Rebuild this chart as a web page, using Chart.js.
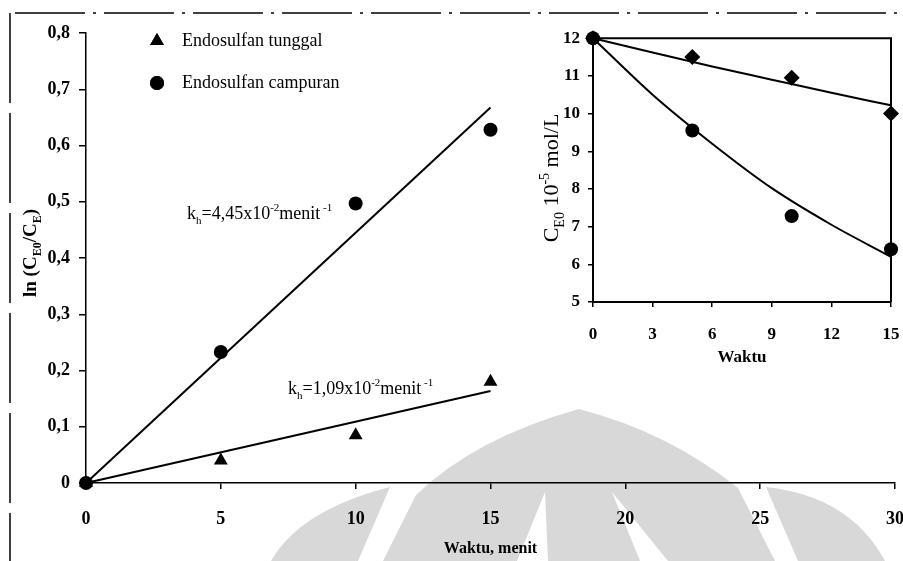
<!DOCTYPE html>
<html>
<head>
<meta charset="utf-8">
<script src="https://cdn.jsdelivr.net/npm/chart.js@4.4.1/dist/chart.umd.min.js"></script>
<style>
  html, body { margin: 0; padding: 0; background: #fff; }
  #wrap { position: relative; width: 903px; height: 561px; overflow: hidden; }
  #mainChart { position: absolute; left: 0; top: 0; }
  #insetChart { position: absolute; left: 530px; top: 20px; }
</style>
</head>
<body>
<div id="wrap">
  <canvas id="mainChart" width="903" height="561"></canvas>
  <canvas id="insetChart" width="373" height="350"></canvas>
</div>
<script>
// ln(CE0/CE) terhadap waktu (menit)
const waktu = [0, 5, 10, 15];
const lnTunggal = [0, 0.04, 0.085, 0.18];
const lnCampuran = [0, 0.233, 0.497, 0.628];

// konstanta laju (menit^-1), garis fit ln(CE0/CE) = k t
const kTunggal = 1.09e-2;
const kCampuran = 4.45e-2;
const fitEnd = 15;

const xTickLabels = ['0', '5', '10', '15', '20', '25', '30'];
const yTickLabels = ['0', '0,1', '0,2', '0,3', '0,4', '0,5', '0,6', '0,7', '0,8'];

// grafik kecil: CE0 (10^-5 mol/L) terhadap waktu
const insetWaktu = [0, 5, 10, 15];
const cTunggal = [12, 11.5, 10.95, 10.0];
const cCampuran = [12, 9.55, 7.28, 6.4];
const fitWaktu = [0, 3, 6, 9, 12, 15];
const cTunggalFit = [12, 11.62, 11.25, 10.9, 10.55, 10.22];
const cCampuranFit = [12, 10.5, 9.2, 8.02, 7.05, 6.2];
const insetXTicks = ['0', '3', '6', '9', '12', '15'];
const insetYTicks = ['5', '6', '7', '8', '9', '10', '11', '12'];

const FONT = '"Liberation Serif", "Times New Roman", serif';

const toPoints = (xs, ys) => xs.map((x, i) => ({ x: x, y: ys[i] }));

// text with sub/superscript parts: [[text, ''|'sub'|'sup'], ...]
function drawRich(ctx, parts, x, y, size, weight, align) {
  const small = Math.round(size * 0.62);
  const fontFor = m => `${weight} ${m ? small : size}px ${FONT}`;
  let total = 0;
  parts.forEach(([t, m]) => { ctx.font = fontFor(m); total += ctx.measureText(t).width; });
  let cx = align === 'center' ? x - total / 2 : x;
  ctx.textAlign = 'left';
  ctx.textBaseline = 'alphabetic';
  parts.forEach(([t, m]) => {
    ctx.font = fontFor(m);
    const dy = m === 'sub' ? size * 0.25 : m === 'sup' ? -size * 0.42 : 0;
    ctx.fillText(t, cx, y + dy);
    cx += ctx.measureText(t).width;
  });
}

function drawWatermark(ctx) {
  ctx.save();
  ctx.fillStyle = '#d8d8d8';
  ctx.beginPath();
  ctx.moveTo(383, 561);
  ctx.lineTo(416, 495);
  ctx.quadraticCurveTo(475, 438, 579, 409);
  ctx.quadraticCurveTo(668, 432, 738, 488);
  ctx.lineTo(775, 561);
  ctx.closePath();
  ctx.fill();
  ctx.beginPath();
  ctx.moveTo(271, 561);
  ctx.quadraticCurveTo(300, 510, 390, 487);
  ctx.lineTo(358, 561);
  ctx.closePath();
  ctx.fill();
  ctx.beginPath();
  ctx.moveTo(766, 487);
  ctx.quadraticCurveTo(850, 496, 885, 561);
  ctx.lineTo(798, 561);
  ctx.closePath();
  ctx.fill();
  ctx.fillStyle = '#fff';
  ctx.beginPath();
  ctx.moveTo(545, 492); ctx.lineTo(548, 561); ctx.lineTo(517, 561);
  ctx.closePath();
  ctx.fill();
  ctx.beginPath();
  ctx.moveTo(612, 492); ctx.lineTo(668, 561); ctx.lineTo(640, 561);
  ctx.closePath();
  ctx.fill();
  ctx.restore();
}

const mainDecor = {
  id: 'mainDecor',
  beforeDraw(chart) {
    const ctx = chart.ctx;
    drawWatermark(ctx);
    // outer frame remnants
    ctx.save();
    ctx.strokeStyle = '#000';
    ctx.lineWidth = 1.5;
    ctx.setLineDash([70, 8, 3, 8]);
    ctx.beginPath(); ctx.moveTo(15, 13); ctx.lineTo(903, 13); ctx.stroke();
    ctx.setLineDash([90, 10]);
    ctx.beginPath(); ctx.moveTo(10, 13); ctx.lineTo(10, 561); ctx.stroke();
    ctx.restore();
  },
  afterDraw(chart) {
    const ctx = chart.ctx;
    ctx.save();
    ctx.fillStyle = '#000';
    // legend
    Chart.helpers.drawPoint(ctx, { pointStyle: 'triangle', radius: 8, rotation: 0, borderWidth: 0 }, 157, 41);
    ctx.fill();
    Chart.helpers.drawPoint(ctx, { pointStyle: 'circle', radius: 7, rotation: 0, borderWidth: 0 }, 157, 83);
    ctx.fill();
    ctx.font = `18px ${FONT}`;
    ctx.textBaseline = 'middle';
    ctx.textAlign = 'left';
    ctx.fillText('Endosulfan tunggal', 182, 41);
    ctx.fillText('Endosulfan campuran', 182, 83);

    // rate constants
    drawRich(ctx, [['k', ''], ['h', 'sub'], ['=4,45x10', ''], ['-2', 'sup'], ['menit', ''], [' -1', 'sup']], 187, 219, 18, 'normal', 'left');
    drawRich(ctx, [['k', ''], ['h', 'sub'], ['=1,09x10', ''], ['-2', 'sup'], ['menit', ''], [' -1', 'sup']], 288, 394, 18, 'normal', 'left');

    // y axis title
    ctx.translate(30, 253);
    ctx.rotate(-Math.PI / 2);
    drawRich(ctx, [['ln (C', ''], ['E0', 'sub'], ['/C', ''], ['E', 'sub'], [')', '']], 0, 6, 19, 'bold', 'center');
    ctx.restore();
  }
};

new Chart(document.getElementById('mainChart').getContext('2d'), {
  type: 'scatter',
  data: {
    datasets: [
      {
        label: 'Endosulfan tunggal',
        data: toPoints(waktu, lnTunggal),
        pointStyle: 'triangle', pointRadius: 8,
        backgroundColor: '#000', borderColor: '#000', borderWidth: 0
      },
      {
        label: 'Endosulfan campuran',
        data: toPoints(waktu, lnCampuran),
        pointStyle: 'circle', pointRadius: 7,
        backgroundColor: '#000', borderColor: '#000', borderWidth: 0
      },
      {
        label: 'fit tunggal',
        data: [{ x: 0, y: 0 }, { x: fitEnd, y: kTunggal * fitEnd }],
        showLine: true, pointRadius: 0, borderColor: '#000', borderWidth: 2
      },
      {
        label: 'fit campuran',
        data: [{ x: 0, y: 0 }, { x: fitEnd, y: kCampuran * fitEnd }],
        showLine: true, pointRadius: 0, borderColor: '#000', borderWidth: 2
      }
    ]
  },
  options: {
    responsive: false,
    animation: false,
    clip: false,
    layout: { padding: { top: 33, right: 8, bottom: 0, left: 0 } },
    plugins: { legend: { display: false }, tooltip: { enabled: false } },
    scales: {
      x: {
        type: 'linear', min: 0, max: 30,
        ticks: {
          stepSize: 5, color: '#000', padding: 20,
          font: { family: FONT, size: 18, weight: 'bold' },
          callback: (v, i) => xTickLabels[i]
        },
        grid: { drawOnChartArea: false, color: '#000', tickLength: 6, lineWidth: 1.5 },
        border: { color: '#000', width: 1.5, dash: [100, 9] },
        title: {
          display: true, text: 'Waktu, menit', color: '#000',
          font: { family: FONT, size: 16, weight: 'bold' },
          padding: { top: 0, bottom: 3 }
        },
        afterFit: s => { s.height = 78; s.paddingLeft = 0; s.paddingRight = 0; }
      },
      y: {
        type: 'linear', min: 0, max: 0.8,
        ticks: {
          stepSize: 0.1, color: '#000', padding: 9,
          font: { family: FONT, size: 18, weight: 'bold' },
          callback: (v, i) => yTickLabels[i]
        },
        grid: { drawOnChartArea: false, color: '#000', tickLength: 7, lineWidth: 1.5 },
        border: { color: '#000', width: 1.5 },
        afterFit: s => { s.width = 86; }
      }
    }
  },
  plugins: [mainDecor]
});

const insetDecor = {
  id: 'insetDecor',
  afterDraw(chart) {
    const ctx = chart.ctx;
    const a = chart.chartArea;
    ctx.save();
    ctx.strokeStyle = '#000';
    ctx.lineWidth = 2;
    ctx.beginPath();
    ctx.moveTo(a.left, a.top);
    ctx.lineTo(a.right, a.top);
    ctx.lineTo(a.right, a.bottom);
    ctx.stroke();
    ctx.fillStyle = '#000';
    ctx.translate(20, 158);
    ctx.rotate(-Math.PI / 2);
    drawRich(ctx, [['C', ''], ['E0', 'sub'], [' 10', ''], ['-5', 'sup'], [' mol/L', '']], 0, 8, 22, 'normal', 'center');
    ctx.restore();
  }
};

new Chart(document.getElementById('insetChart').getContext('2d'), {
  type: 'scatter',
  data: {
    datasets: [
      {
        label: 'tunggal',
        data: toPoints(insetWaktu, cTunggal),
        pointStyle: 'rectRot', pointRadius: 8,
        backgroundColor: '#000', borderColor: '#000', borderWidth: 0
      },
      {
        label: 'campuran',
        data: toPoints(insetWaktu, cCampuran),
        pointStyle: 'circle', pointRadius: 7,
        backgroundColor: '#000', borderColor: '#000', borderWidth: 0
      },
      {
        label: 'fit tunggal',
        data: toPoints(fitWaktu, cTunggalFit),
        showLine: true, pointRadius: 0, borderColor: '#000', borderWidth: 2,
        cubicInterpolationMode: 'monotone'
      },
      {
        label: 'fit campuran',
        data: toPoints(fitWaktu, cCampuranFit),
        showLine: true, pointRadius: 0, borderColor: '#000', borderWidth: 2,
        cubicInterpolationMode: 'monotone'
      }
    ]
  },
  options: {
    responsive: false,
    animation: false,
    clip: false,
    layout: { padding: { top: 16, right: 12, bottom: 0, left: 0 } },
    plugins: { legend: { display: false }, tooltip: { enabled: false } },
    scales: {
      x: {
        type: 'linear', min: 0, max: 15,
        ticks: {
          stepSize: 3, color: '#000', padding: 17,
          font: { family: FONT, size: 17, weight: 'bold' },
          callback: (v, i) => insetXTicks[i]
        },
        grid: { drawOnChartArea: false, color: '#000', tickLength: 5, lineWidth: 1.5 },
        border: { color: '#000', width: 2 },
        title: {
          display: true, text: 'Waktu', color: '#000',
          font: { family: FONT, size: 17, weight: 'bold' },
          padding: { top: 0, bottom: 2 }
        },
        afterFit: s => { s.height = 68; s.paddingLeft = 0; s.paddingRight = 0; }
      },
      y: {
        type: 'linear', min: 5, max: 12,
        ticks: {
          stepSize: 1, color: '#000', padding: 8,
          font: { family: FONT, size: 17, weight: 'bold' },
          callback: (v, i) => insetYTicks[i]
        },
        grid: { drawOnChartArea: false, color: '#000', tickLength: 5, lineWidth: 1.5 },
        border: { color: '#000', width: 2 },
        afterFit: s => { s.width = 63; }
      }
    }
  },
  plugins: [insetDecor]
});
</script>
</body>
</html>
